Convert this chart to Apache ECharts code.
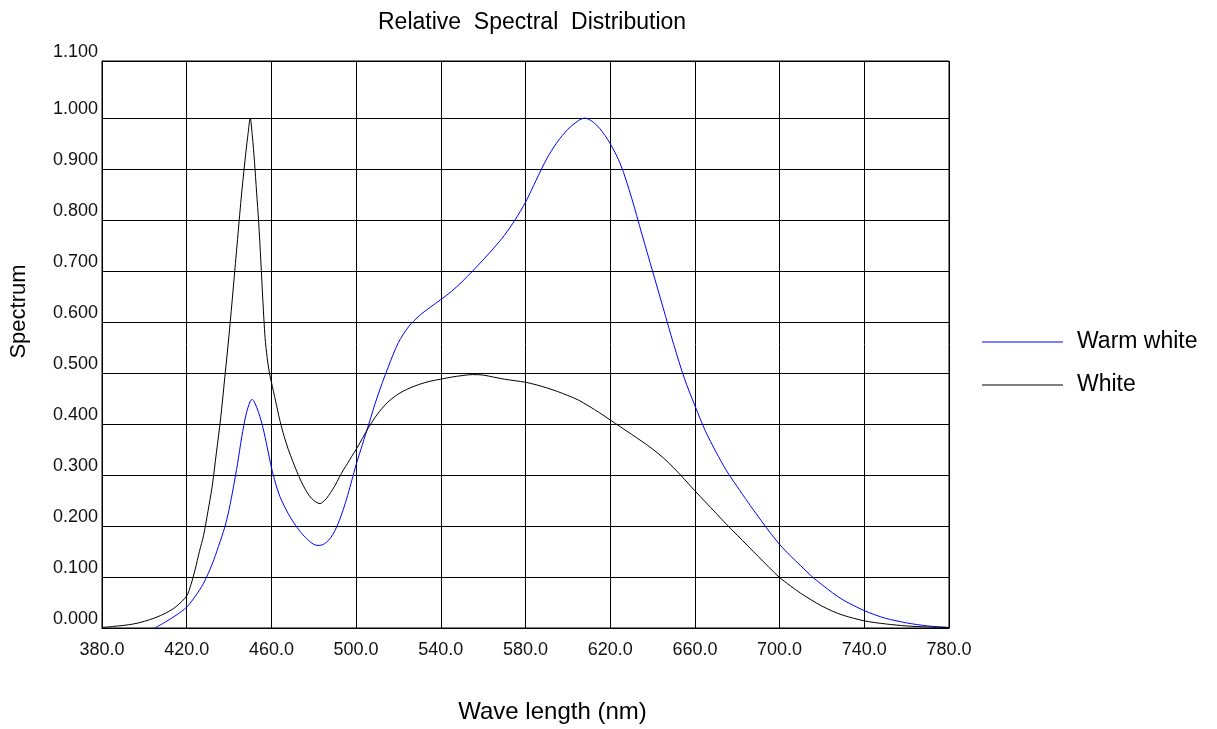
<!DOCTYPE html>
<html>
<head>
<meta charset="utf-8">
<script src="https://cdn.jsdelivr.net/npm/echarts@6/dist/echarts.min.js"></script>
<style>
html,body{margin:0;padding:0;background:#fff;}
#chart{width:1217px;height:729px;}
</style>
</head>
<body>
<div id="chart"></div>
<script>
// Warm white series
const warmWavelengths = [405,410,415,420,424,428,432,435,438,440,442,444,446,448,450,451,452,454,456,458,460,462,464,466,468,470,472,474,476,478,480,482,484,486,488,490,492,494,496,498,500,503,506,510,515,520,525,530,535,540,545,550,555,560,565,570,575,580,585,590,595,600,605,608,611,615,620,625,630,635,640,645,650,655,660,665,670,675,680,685,690,695,700,705,710,715,720,725,730,735,740,745,750,760,770,780];
const warmValues = [0.000,0.012,0.025,0.041,0.062,0.088,0.125,0.160,0.198,0.232,0.275,0.322,0.375,0.418,0.445,0.448,0.443,0.422,0.393,0.355,0.315,0.283,0.258,0.240,0.224,0.210,0.198,0.187,0.178,0.170,0.164,0.162,0.163,0.168,0.177,0.191,0.210,0.233,0.260,0.290,0.320,0.360,0.400,0.453,0.510,0.560,0.592,0.613,0.629,0.644,0.660,0.679,0.700,0.722,0.745,0.770,0.800,0.835,0.878,0.920,0.953,0.978,0.995,1.000,0.995,0.980,0.950,0.908,0.845,0.772,0.700,0.628,0.556,0.490,0.436,0.386,0.345,0.308,0.277,0.247,0.218,0.190,0.164,0.142,0.122,0.102,0.085,0.069,0.055,0.044,0.034,0.026,0.019,0.010,0.004,0.001];
// White series
const whiteWavelengths = [380,385,390,395,400,405,410,415,420,422,424,426,428,430,432,434,436,438,440,442,444,446,448,449,450,451,452,453,454,455,456,457,458,459,460,462,464,466,468,470,472,474,476,478,480,482,483,484,486,488,490,492,494,496,498,500,503,506,510,515,520,525,530,535,540,545,550,555,560,565,570,575,580,585,590,595,600,605,610,615,620,625,630,635,640,645,650,655,660,665,670,675,680,685,690,695,700,705,710,715,720,725,730,740,750,760,770,780];
const whiteValues = [0.001,0.003,0.005,0.008,0.013,0.020,0.029,0.042,0.063,0.085,0.115,0.150,0.182,0.228,0.277,0.343,0.410,0.492,0.575,0.667,0.762,0.855,0.935,0.970,1.000,0.965,0.915,0.855,0.795,0.720,0.640,0.570,0.530,0.502,0.482,0.445,0.407,0.376,0.350,0.328,0.307,0.288,0.272,0.259,0.250,0.245,0.244,0.246,0.254,0.266,0.279,0.295,0.310,0.323,0.337,0.350,0.372,0.394,0.419,0.443,0.459,0.470,0.478,0.484,0.488,0.492,0.495,0.497,0.496,0.492,0.488,0.485,0.482,0.477,0.471,0.464,0.456,0.447,0.435,0.422,0.408,0.394,0.380,0.366,0.351,0.334,0.314,0.292,0.269,0.247,0.225,0.203,0.182,0.161,0.140,0.119,0.099,0.083,0.068,0.055,0.043,0.033,0.025,0.014,0.008,0.004,0.002,0.001];
const seriesNames = ['Warm white', 'White'];
const titleText = 'Relative  Spectral  Distribution';
const xName = 'Wave length (nm)';
const yName = 'Spectrum';

function pairs(xs, vals){ return xs.map((w,i)=>[w, vals[i]]); }

const FONT = 'Liberation Sans, Arial, sans-serif';
const chart = echarts.init(document.getElementById('chart'), null, {renderer:'canvas'});
// hide the split line at 1.1 (index 11) so the frame top acts as the 1.100 line
const splitColors = [];
for (let i = 0; i < 13; i++) splitColors.push(i === 11 ? 'rgba(0,0,0,0)' : '#000');

chart.setOption({
  backgroundColor: '#fff',
  animation: false,
  title: {
    text: titleText, left: 373, top: 6,
    textStyle: {fontSize: 23, fontWeight: 'normal', color: '#000', fontFamily: FONT}
  },
  legend: {
    orient: 'vertical', left: 982, top: 329, padding: 0,
    icon: 'rect', itemWidth: 81, itemHeight: 1, itemGap: 17,
    data: seriesNames,
    textStyle: {fontSize: 23, lineHeight: 24, color: '#000', fontFamily: FONT, padding: [2,0,0,9]}
  },
  grid: {left: 99, right: 268, top: 61, bottom: 101, show: true, borderColor: '#000', borderWidth: 1},
  xAxis: {
    type: 'value', min: 380, max: 780, interval: 40,
    name: xName, nameLocation: 'middle', nameGap: 72,
    nameTextStyle: {fontSize: 24, color: '#000', fontFamily: FONT, padding: [0,0,0,54]},
    axisLine: {show: true, lineStyle: {color: '#000', width: 1}},
    axisTick: {show: false},
    splitLine: {show: true, lineStyle: {color: '#000', width: 1}},
    axisLabel: {formatter: v => v.toFixed(1), fontSize: 18, color: '#111', fontFamily: FONT, margin: 13}
  },
  yAxis: {
    type: 'value', min: 0, max: 1.112, interval: 0.1,
    name: yName, nameLocation: 'middle', nameRotate: 90, nameGap: 72,
    nameTextStyle: {fontSize: 22, color: '#000', fontFamily: FONT, padding: [0,0,0,66]},
    axisLine: {show: true, lineStyle: {color: '#000', width: 1}},
    axisTick: {show: false},
    splitLine: {show: true, lineStyle: {color: splitColors, width: 1}},
    axisLabel: {
      formatter: v => (Math.abs(v - 1.1) < 1e-6 ? '' : (v > 1.105 ? '1.100' : v.toFixed(3))),
      fontSize: 18, color: '#111', fontFamily: FONT, margin: 4,
      verticalAlign: 'bottom', padding: [0,0,0,0]
    }
  },
  series: [
    {name: seriesNames[0], type: 'line', data: pairs(warmWavelengths, warmValues), symbol: 'none', smooth: 0.3,
     lineStyle: {color: '#0000ff', width: 1}, itemStyle: {color: '#0000ff'}},
    {name: seriesNames[1], type: 'line', data: pairs(whiteWavelengths, whiteValues), symbol: 'none', smooth: 0.3,
     lineStyle: {color: '#000', width: 1}, itemStyle: {color: '#000'}}
  ]
});
</script>
</body>
</html>
